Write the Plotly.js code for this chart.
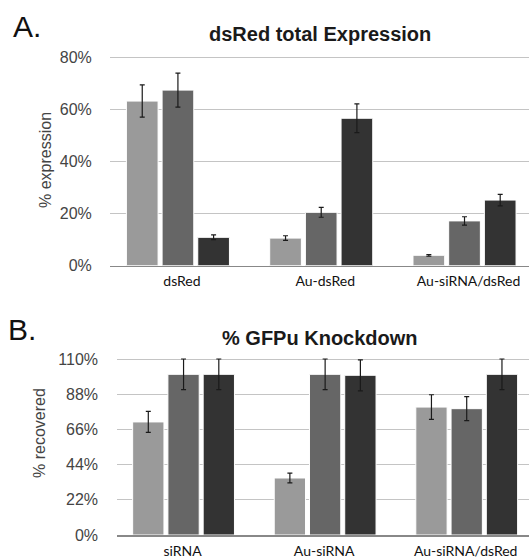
<!DOCTYPE html>
<html>
<head>
<meta charset="utf-8">
<script src="https://cdn.plot.ly/plotly-3.0.1.min.js"></script>
<style>html,body{margin:0;padding:0;background:#fff;overflow:hidden}#chart{width:529px;height:558px}</style>
</head>
<body>
<div id="chart"></div>
<script>
// Panel A data
var catsA = ['dsRed', 'Au-dsRed', 'Au-siRNA/dsRed'];
var a1 = [63.2, 10.6, 4.0];
var a1err = [6.2, 0.9, 0.3];
var a2 = [67.4, 20.5, 17.2];
var a2err = [6.5, 1.9, 1.6];
var a3 = [10.9, 56.6, 25.2];
var a3err = [0.9, 5.5, 2.2];
var ticksA = [0, 20, 40, 60, 80];
var tickTextA = ['0%', '20%', '40%', '60%', '80%'];

// Panel B data
var catsB = ['siRNA', 'Au-siRNA', 'Au-siRNA/dsRed'];
var b1 = [70.8, 35.7, 80.1];
var b1err = [6.6, 3.1, 7.7];
var b2 = [100.6, 100.6, 79.1];
var b2err = [9.6, 9.6, 7.5];
var b3 = [100.6, 100.0, 100.6];
var b3err = [9.6, 9.7, 9.6];
var ticksB = [0, 22, 44, 66, 88, 110];
var tickTextB = ['0%', '22%', '44%', '66%', '88%', '110%'];

var colors = ['#9a9a9a', '#666666', '#333333'];

function bar(x, y, err, c, xa, ya) {
  return {
    type: 'bar', x: x, y: y, xaxis: xa, yaxis: ya,
    marker: {color: c, line: {color: '#ffffff', width: 1}},
    error_y: {type: 'data', array: err, visible: true, color: '#1a1a1a', thickness: 1.2, width: 2.5},
    showlegend: false, hoverinfo: 'skip'
  };
}

var data = [
  bar(catsA, a1, a1err, colors[0], 'x', 'y'),
  bar(catsA, a2, a2err, colors[1], 'x', 'y'),
  bar(catsA, a3, a3err, colors[2], 'x', 'y'),
  bar(catsB, b1, b1err, colors[0], 'x2', 'y2'),
  bar(catsB, b2, b2err, colors[1], 'x2', 'y2'),
  bar(catsB, b3, b3err, colors[2], 'x2', 'y2')
];

var tickFont = {family: 'Liberation Sans, Arial, sans-serif', size: 16, color: '#444'};
var catFont = {family: 'Lato, sans-serif', size: 14, color: '#111'};

var layout = {
  width: 529, height: 558,
  margin: {l: 0, r: 0, t: 0, b: 0},
  paper_bgcolor: '#fff', plot_bgcolor: '#fff',
  barmode: 'group', bargap: 0.253, bargroupgap: 0.112,
  xaxis: {domain: [110/529, 1], range: [-0.474, 2.45], type: 'category', anchor: 'y',
    showgrid: false, zeroline: false, showline: true, linecolor: '#888', linewidth: 1.5,
    ticks: '', tickfont: catFont, ticklabelstandoff: 2, ticklabelshift: 4, automargin: false, fixedrange: true},
  yaxis: {domain: [0.5238, 0.902], range: [0, 81], anchor: 'x', tickmode: 'array', tickvals: ticksA, ticktext: tickTextA,
    showgrid: true, gridcolor: '#c4c4c4', gridwidth: 1, zeroline: false, showline: false,
    ticks: 'outside', ticklen: 14, tickcolor: 'rgba(0,0,0,0)', tickfont: tickFont, automargin: false, fixedrange: true},
  xaxis2: {domain: [117.3/529, 1], range: [-0.468, 2.44], type: 'category', anchor: 'y2',
    showgrid: false, zeroline: false, showline: true, linecolor: '#888', linewidth: 1.5,
    ticks: '', tickfont: catFont, ticklabelstandoff: 3, ticklabelshift: -1, automargin: false, fixedrange: true},
  yaxis2: {domain: [0.0412, 0.3618], range: [0, 112], anchor: 'x2', tickmode: 'array', tickvals: ticksB, ticktext: tickTextB,
    showgrid: true, gridcolor: '#c4c4c4', gridwidth: 1, zeroline: false, showline: false,
    ticks: 'outside', ticklen: 15, tickcolor: 'rgba(0,0,0,0)', tickfont: tickFont, automargin: false, fixedrange: true},
  annotations: [
    {text: '<b>dsRed total Expression</b>', xref: 'paper', yref: 'paper', x: 320/529, y: 1 - 34/558,
     xanchor: 'center', yanchor: 'middle', showarrow: false,
     font: {family: 'Liberation Sans, Arial, sans-serif', size: 20, color: '#1a1a1a'}},
    {text: '<b>% GFPu Knockdown</b>', xref: 'paper', yref: 'paper', x: 320/529, y: 1 - 338/558,
     xanchor: 'center', yanchor: 'middle', showarrow: false,
     font: {family: 'Liberation Sans, Arial, sans-serif', size: 20, color: '#1a1a1a'}},
    {text: 'A.', xref: 'paper', yref: 'paper', x: 11/529, y: 1 - 27/558,
     xanchor: 'left', yanchor: 'middle', showarrow: false,
     font: {family: 'Liberation Sans, Arial, sans-serif', size: 30, color: '#111'}},
    {text: 'B.', xref: 'paper', yref: 'paper', x: 6/529, y: 1 - 329/558,
     xanchor: 'left', yanchor: 'middle', showarrow: false,
     font: {family: 'Liberation Sans, Arial, sans-serif', size: 30, color: '#111'}},
    {text: '% expression', xref: 'paper', yref: 'paper', x: 45/529, y: 1 - 160/558,
     xanchor: 'center', yanchor: 'middle', textangle: -90, showarrow: false,
     font: {family: 'Liberation Sans, Arial, sans-serif', size: 16, color: '#444'}},
    {text: '% recovered', xref: 'paper', yref: 'paper', x: 39/529, y: 1 - 433/558,
     xanchor: 'center', yanchor: 'middle', textangle: -90, showarrow: false,
     font: {family: 'Liberation Sans, Arial, sans-serif', size: 16, color: '#444'}}
  ]
};

Plotly.newPlot('chart', data, layout, {staticPlot: true, displayModeBar: false});
</script>
</body>
</html>
